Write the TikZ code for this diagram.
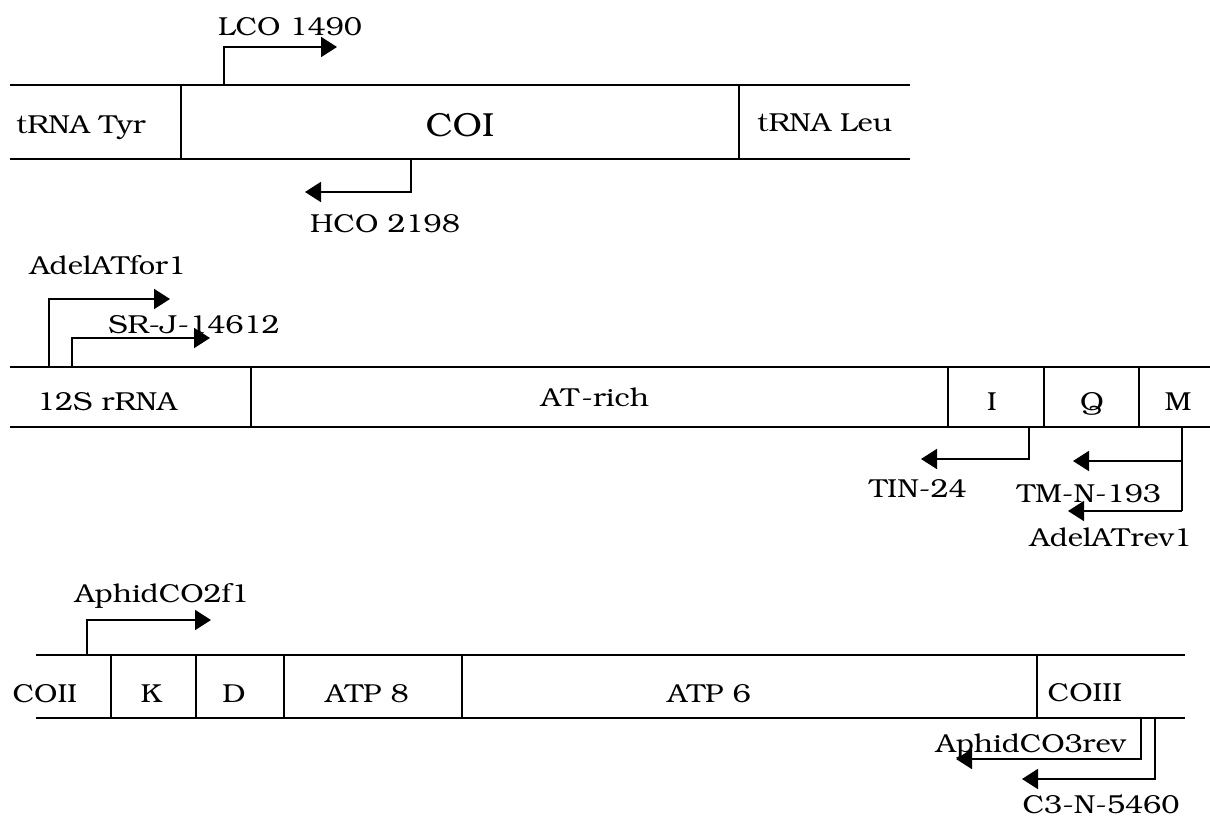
\documentclass[tikz,border=0pt]{standalone}
\usepackage[T1]{fontenc}
\usepackage{bookman}
\usetikzlibrary{arrows.meta}
\begin{document}
\begin{tikzpicture}[x=0.75pt,y=-0.75pt,
  seg/.style={line width=1.4pt},
  edge/.style={line width=2.1pt},
  primer/.style={line width=1.4pt,-{Triangle[length=12pt,width=15pt]}},
  lbl/.style={inner sep=0pt,anchor=base,xscale=1.12,transform shape,
    font=\fontsize{19.5}{22}\selectfont},
  gene/.style={inner sep=0pt,anchor=base,xscale=1.1,transform shape,
    font=\fontsize{25}{28}\selectfont}]
\useasboundingbox (0,0) rectangle (1210,817);

% ---------- COI region ----------
\draw[seg] (10,85) -- (910,85);
\draw[seg] (10,159) -- (910,159);
\draw[seg] (181,85) -- (181,159);
\draw[seg] (739,85) -- (739,159);
\draw[edge] (181,85) -- (210,85);
\draw[edge] (181,159) -- (210,159);
\draw[edge] (663,85) -- (739,85);
\draw[edge] (653,159) -- (739,159);
\node[lbl]  (tyr) at (81,133)  {tRNA Tyr};
\node[gene] (coi) at (460,136) {COI};
\node[lbl]  (leu) at (825,132) {tRNA Leu};

\coordinate (lco-s) at (224,85);  \coordinate (lco-e) at (337,47);
\coordinate (hco-s) at (411,159); \coordinate (hco-e) at (305,192);
\draw[primer] (lco-s) |- (lco-e);
\draw[primer] (hco-s) |- (hco-e);
\node[lbl] (lco) at (290,36)  {LCO 1490};
\node[lbl] (hco) at (385,232) {HCO 2198};

% ---------- control region ----------
\draw[seg] (10,367) -- (1210,367);
\draw[seg] (10,427) -- (1210,427);
\foreach \x in {251,948,1044,1139} \draw[seg] (\x,367) -- (\x,427);
\node[lbl] (rrna) at (107,410)  {12S rRNA};
\node[lbl] (atr)  at (595,406)  {AT-rich};
\node[lbl] (trnI) at (992,410)  {I};
\node[lbl] (trnQ) at (1092,410) {Q};
\node[lbl] (trnM) at (1178,410) {M};

\coordinate (afor-s) at (49,367);  \coordinate (afor-e) at (170,299);
\coordinate (srj-s)  at (72,367);  \coordinate (srj-e)  at (210,338);
\coordinate (tin-s)  at (1029,427); \coordinate (tin-e) at (921,459);
\coordinate (m-s)    at (1182,427); \coordinate (m-b)   at (1182,511);
\coordinate (tm-s)   at (1182,461); \coordinate (tm-e)  at (1073,461);
\coordinate (arev-e) at (1068,511);
\draw[primer] (afor-s) |- (afor-e);
\draw[primer] (srj-s) |- (srj-e);
\draw[primer] (tin-s) |- (tin-e);
\draw[seg] (m-s) -- (m-b);
\draw[primer] (tm-s) -- (tm-e);
\draw[primer] (m-b) -- (arev-e);
\node[lbl] (afor) at (108,274)  {AdelATfor1};
\node[lbl] (srj)  at (194,333)  {SR-J-14612};
\node[lbl] (tin)  at (918,497)  {TIN-24};
\node[lbl] (tmn)  at (1089,502) {TM-N-193};
\node[lbl] (arev) at (1111,546) {AdelATrev1};

% ---------- COII -- COIII region ----------
\draw[seg] (36,655) -- (1185,655);
\draw[seg] (36,718) -- (1185,718);
\foreach \x in {111,196,284,462,1037} \draw[seg] (\x,655) -- (\x,718);
\node[lbl] (coii)  at (45,702)   {COII};
\node[lbl] (trnK)  at (151,702)  {K};
\node[lbl] (trnD)  at (234,702)  {D};
\node[lbl] (atp8)  at (367,702)  {ATP 8};
\node[lbl] (atp6)  at (709,702)  {ATP 6};
\node[lbl] (coiii) at (1085,701) {COIII};

\coordinate (co2-s) at (87,655);   \coordinate (co2-e) at (211,620);
\coordinate (co3-s) at (1141,718); \coordinate (co3-e) at (956,759);
\coordinate (c3n-s) at (1155,718); \coordinate (c3n-e) at (1022,779);
\draw[primer] (co2-s) |- (co2-e);
\draw[primer] (co3-s) |- (co3-e);
\draw[primer] (c3n-s) |- (c3n-e);
\node[lbl] (co2) at (162,602)  {AphidCO2f1};
\node[lbl] (co3) at (1031,752) {AphidCO3rev};
\node[lbl] (c3n) at (1101,813) {C3-N-5460};
\end{tikzpicture}
\end{document}
